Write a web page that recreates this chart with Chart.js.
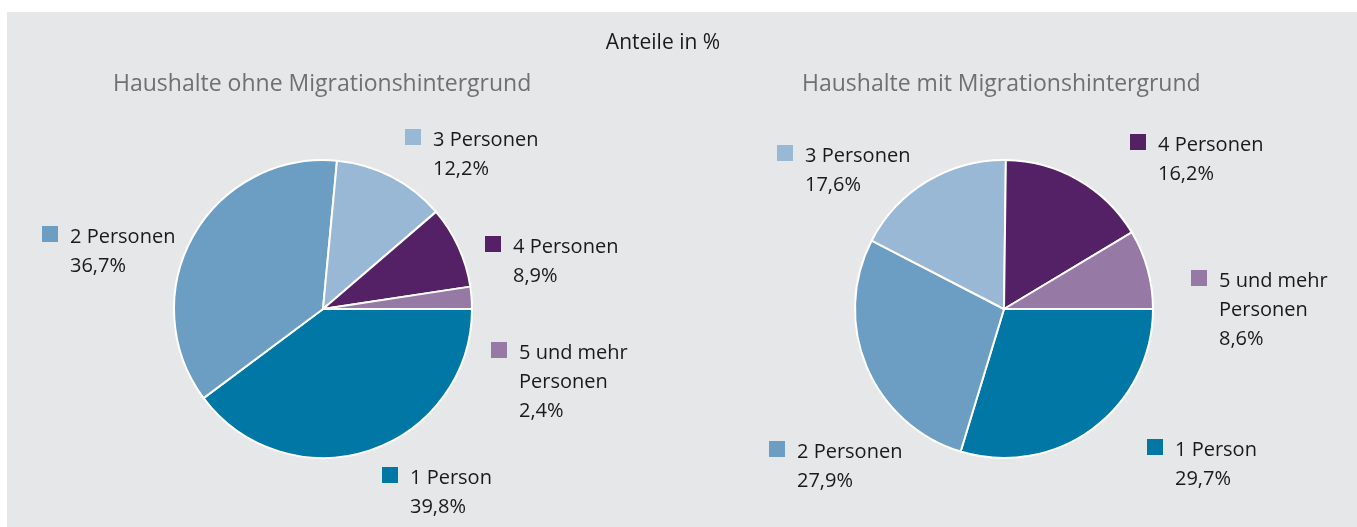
<!DOCTYPE html>
<html>
<head>
<meta charset="utf-8">
<script src="https://cdn.jsdelivr.net/npm/chart.js@4"></script>
<style>
  html, body { margin: 0; padding: 0; background: #ffffff; }
  #wrap { position: relative; width: 1357px; height: 527px; }
  canvas { position: absolute; left: 0; top: 0; }
</style>
</head>
<body>
<div id="wrap">
  <canvas id="chart1" width="1357" height="527"></canvas>
  <canvas id="chart2" width="1357" height="527"></canvas>
</div>
<script>
// Kategorien (Haushaltsgröße)
const categories = ['1 Person', '2 Personen', '3 Personen', '4 Personen', '5 und mehr Personen'];
// Zeilen für die Beschriftung
const labelLines = [['1 Person'], ['2 Personen'], ['3 Personen'], ['4 Personen'], ['5 und mehr', 'Personen']];
// Anteile in %
const ohneMigration = [39.8, 36.7, 12.2, 8.9, 2.4];
const mitMigration = [29.7, 27.9, 17.6, 16.2, 8.6];
const titles = ['Haushalte ohne Migrationshintergrund', 'Haushalte mit Migrationshintergrund'];
const mainTitle = 'Anteile in %';

const colors = ['#0077a4', '#6b9ec2', '#98b8d5', '#552166', '#9779a5'];
const FONT = '"Open Sans", sans-serif';

// Position der Legendenquadrate (oben links)
const labelPos1 = [[382, 467], [42, 226], [405, 129], [485, 236], [491, 342]];
const labelPos2 = [[1147, 439], [769, 441], [777, 145], [1130, 134], [1191, 270]];

function fmt(v) {
    return v.toFixed(1).replace('.', ',') + '%';
}

function labelPlugin(values, pos, title, titleX, drawMain) {
    return {
        id: 'labels',
        beforeDraw(chart) {
            if (!drawMain) return;
            const ctx = chart.ctx;
            ctx.save();
            ctx.fillStyle = '#e6e7e9';
            ctx.fillRect(7, 12, 1350, 515);
            ctx.restore();
        },
        afterDraw(chart) {
            const ctx = chart.ctx;
            ctx.save();
            ctx.textBaseline = 'alphabetic';
            if (drawMain) {
                ctx.fillStyle = '#1a1a1a';
                ctx.font = '21px ' + FONT;
                ctx.textAlign = 'center';
                ctx.fillText(mainTitle, 663, 49);
            }
            ctx.textAlign = 'left';
            ctx.fillStyle = '#707070';
            ctx.font = '23px ' + FONT;
            ctx.fillText(title, titleX, 91);

            ctx.font = '20px ' + FONT;
            values.forEach((v, i) => {
                const [x, y] = pos[i];
                ctx.fillStyle = colors[i];
                ctx.fillRect(x, y, 16, 16);
                ctx.fillStyle = '#1a1a1a';
                const lines = labelLines[i].concat([fmt(v)]);
                lines.forEach((t, j) => {
                    ctx.fillText(t, x + 28, y + 17 + j * 29);
                });
            });
            ctx.restore();
        }
    };
}

function makePie(id, values, padding, pos, title, titleX, drawMain) {
    return new Chart(document.getElementById(id).getContext('2d'), {
        type: 'pie',
        data: {
            labels: categories,
            datasets: [{
                data: values,
                backgroundColor: colors,
                borderColor: '#ffffff',
                borderWidth: 2
            }]
        },
        options: {
            responsive: false,
            animation: false,
            devicePixelRatio: 1,
            rotation: 90, // Start bei 3 Uhr
            layout: { padding: padding },
            plugins: {
                legend: { display: false },
                tooltip: { enabled: false }
            }
        },
        plugins: [labelPlugin(values, pos, title, titleX, drawMain)]
    });
}

makePie('chart1', ohneMigration, { left: 173, right: 884, top: 159, bottom: 68 }, labelPos1, titles[0], 113, true);
makePie('chart2', mitMigration, { left: 854, right: 203, top: 159, bottom: 68 }, labelPos2, titles[1], 802, false);
</script>
</body>
</html>
